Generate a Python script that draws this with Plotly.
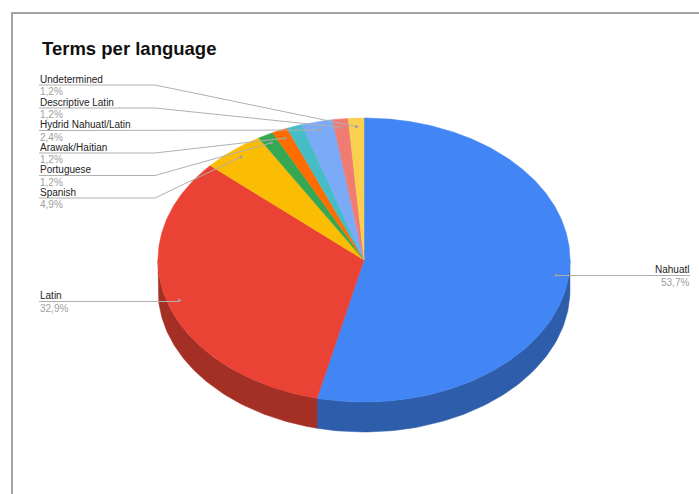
import numpy as np
import plotly.graph_objects as go

# Terms per language (counts), in slice order clockwise from 12 o'clock
languages = ["Nahuatl", "Latin", "Spanish", "Portuguese", "Arawak/Haitian",
             "Other", "Hydrid Nahuatl/Latin", "Descriptive Latin", "Undetermined"]
counts = [44, 27, 4, 1, 1, 1, 2, 1, 1]
colors = ["#4285F4", "#EA4335", "#FBBC04", "#34A853", "#FF6D01",
          "#46BDC6", "#7BAAF7", "#F07B72", "#FCD04F"]
side_colors = ["#2E5DAB", "#A42F25", "#B08403", "#247539", "#B34C01",
               "#31848B", "#5677AD", "#A85650", "#B09237"]
show_label = [True, True, True, True, True, False, True, True, True]

W, H = 699, 494
# ellipse geometry of the tilted pie (pixel space)
CX, CY, RX, RY, DEPTH = 364.0, 260.0, 206.0, 142.0, 30.0
LEAD_K = 0.94

# label placement: side, y of the leader's horizontal line
label_pos = {
    "Nahuatl": ("right", 275.5),
    "Latin": ("left", 301.5),
    "Spanish": ("left", 198),
    "Portuguese": ("left", 175.5),
    "Arawak/Haitian": ("left", 153),
    "Hydrid Nahuatl/Latin": ("left", 130.5),
    "Descriptive Latin": ("left", 108),
    "Undetermined": ("left", 85),
}


def ell(theta_deg, k=1.0, dy=0.0):
    t = np.radians(theta_deg)
    return CX + k * RX * np.sin(t), CY - k * RY * np.cos(t) + dy


total = sum(counts)
bounds = np.concatenate([[0], np.cumsum(counts)]) / total * 360.0

fig = go.Figure()

# side walls (front half only, 90..270 deg)
for i in range(len(counts)):
    a, b = max(bounds[i], 90.0), min(bounds[i + 1], 270.0)
    if b <= a:
        continue
    th = np.linspace(a, b, 80)
    xt, yt = ell(th)
    xb, yb = ell(th[::-1], dy=DEPTH)
    fig.add_trace(go.Scatter(
        x=np.concatenate([xt, xb, xt[:1]]), y=np.concatenate([yt, yb, yt[:1]]),
        mode="lines", fill="toself", fillcolor=side_colors[i],
        line=dict(width=0.5, color=side_colors[i]), hoverinfo="skip", showlegend=False))

# top faces
for i in range(len(counts)):
    th = np.linspace(bounds[i], bounds[i + 1], max(4, int(counts[i] * 8)))
    xs, ys = ell(th)
    fig.add_trace(go.Scatter(
        x=np.concatenate([[CX], xs, [CX]]), y=np.concatenate([[CY], ys, [CY]]),
        mode="lines", fill="toself", fillcolor=colors[i],
        line=dict(width=0.5, color=colors[i]), name=languages[i],
        hoverinfo="name", showlegend=False))

annotations = []
FONT = "Arial, Liberation Sans, sans-serif"
for i, lang in enumerate(languages):
    if not show_label[i] or lang not in label_pos:
        continue
    side, ly = label_pos[lang]
    mid = (bounds[i] + bounds[i + 1]) / 2
    ex, ey = ell(mid, k=LEAD_K)
    pct = f"{counts[i] / total * 100:.1f}%".replace(".", ",")
    if side == "right":
        lx = [ex, 690]
        lyy = [ly, ly]
        tx, anchor = 690, "right"
    else:
        if lang == "Latin":
            lx, lyy = [ex, 39], [ly, ly]
        else:
            lx, lyy = [ex, 155, 39], [ey, ly, ly]
        tx, anchor = 39, "left"
    fig.add_trace(go.Scatter(x=lx, y=lyy, mode="lines",
                             line=dict(color="#b0b0b0", width=1),
                             hoverinfo="skip", showlegend=False))
    fig.add_trace(go.Scatter(x=[ex], y=[ey], mode="markers",
                             marker=dict(color="#a0a0a0", size=3),
                             hoverinfo="skip", showlegend=False))
    annotations.append(dict(x=tx, y=ly - 6, text=lang, showarrow=False,
                            xanchor=anchor, yanchor="middle", borderpad=0,
                            font=dict(family=FONT, size=10, color="#222222")))
    annotations.append(dict(x=tx, y=ly + 6.5, text=pct, showarrow=False,
                            xanchor=anchor, yanchor="middle", borderpad=0,
                            font=dict(family=FONT, size=10, color="#9e9e9e")))

annotations.append(dict(x=40, y=48, text="<b>Terms per language</b>", showarrow=False,
                        xanchor="left", yanchor="middle",
                        font=dict(family=FONT, size=18.5, color="#111111")))

fig.update_layout(
    width=W, height=H, margin=dict(l=0, r=0, t=0, b=0),
    paper_bgcolor="white", plot_bgcolor="white",
    xaxis=dict(range=[0, W], visible=False, fixedrange=True),
    yaxis=dict(range=[H, 0], visible=False, fixedrange=True),
    annotations=annotations,
    shapes=[
        dict(type="line", x0=12, x1=W, y0=13, y1=13, line=dict(color="#a3a3a3", width=2)),
        dict(type="line", x0=12, x1=12, y0=12, y1=H, line=dict(color="#a3a3a3", width=2)),
    ],
)

fig.write_html("out.html")
